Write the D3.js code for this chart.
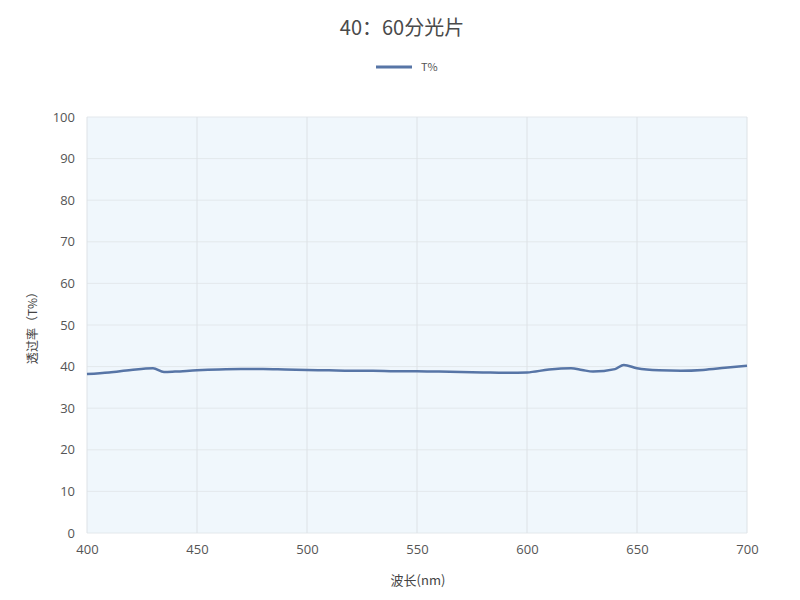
<!DOCTYPE html>
<html>
<head>
<meta charset="utf-8">
<script src="https://cdn.jsdelivr.net/npm/d3@7"></script>
<style>
  body { margin: 0; background: #fff; }
  text { font-family: "Noto Sans CJK SC", "Noto Sans", sans-serif; }
</style>
</head>
<body>
<div id="chart"></div>
<script>
// wavelength (nm) and transmittance (%)
const wavelengths = [400, 410, 420, 430, 435, 440, 450, 460, 470, 480, 490, 500, 510, 520, 530, 540, 550,
                     560, 570, 580, 590, 600, 610, 620, 625, 630, 640, 644, 650, 660, 670, 680, 690, 700];
const transmit = [38.2, 38.6, 39.2, 39.6, 38.7, 38.8, 39.1, 39.3, 39.4, 39.4, 39.3, 39.2, 39.1, 39.0, 39.0, 38.9, 38.9,
                  38.8, 38.7, 38.6, 38.5, 38.6, 39.3, 39.6, 39.2, 38.8, 39.4, 40.4, 39.6, 39.1, 39.0, 39.2, 39.7, 40.2];
const xTicks = [400, 450, 500, 550, 600, 650, 700];
const yTicks = [0, 10, 20, 30, 40, 50, 60, 70, 80, 90, 100];

const titleText = "40：60分光片";
const seriesName = "T%";

var svg = d3.select("#chart").append("svg")
    .attr("width", 800)
    .attr("height", 600);

// plot box ("top" is taken by window.top, so use other names)
var plotL = 87, plotR = 747, plotT = 117, plotB = 533;

var x = d3.scaleLinear().domain([400, 700]).range([plotL, plotR]);
var y = d3.scaleLinear().domain([0, 100]).range([plotB, plotT]);

// plot background
svg.append("rect")
    .attr("x", plotL)
    .attr("y", plotT)
    .attr("width", plotR - plotL)
    .attr("height", plotB - plotT)
    .style("fill", "#f0f7fc");

// horizontal grid
svg.append("g")
    .selectAll("line")
    .data(yTicks)
    .enter()
    .append("line")
        .attr("x1", plotL)
        .attr("x2", plotR)
        .attr("y1", function(d) { return y(d); })
        .attr("y2", function(d) { return y(d); })
        .style("stroke", "#e3e8ec")
        .style("stroke-width", 1);

// vertical grid
svg.append("g")
    .selectAll("line")
    .data(xTicks)
    .enter()
    .append("line")
        .attr("x1", function(d) { return x(d); })
        .attr("x2", function(d) { return x(d); })
        .attr("y1", plotT)
        .attr("y2", plotB)
        .style("stroke", "#dde2e6")
        .style("stroke-width", 1);

// axes (labels only)
var xAxis = svg.append("g")
    .attr("transform", "translate(0," + plotB + ")")
    .call(d3.axisBottom(x).tickValues(xTicks).tickSize(0).tickPadding(12));
var yAxis = svg.append("g")
    .attr("transform", "translate(" + plotL + ",0)")
    .call(d3.axisLeft(y).tickValues(yTicks).tickSize(0).tickPadding(12));

[xAxis, yAxis].forEach(function(a) {
    a.select(".domain").remove();
    a.selectAll("text")
        .style("font-size", "13px")
        .style("fill", "#555")
        .style("font-family", "'Open Sans', 'Noto Sans', sans-serif");
});

// data line
var pts = wavelengths.map(function(w, i) { return [w, transmit[i]]; });
var line = d3.line()
    .x(function(d) { return x(d[0]); })
    .y(function(d) { return y(d[1]); })
    .curve(d3.curveMonotoneX);

svg.append("path")
    .datum(pts)
    .attr("d", line)
    .style("fill", "none")
    .style("stroke", "#5775a6")
    .style("stroke-width", 2.5);

// title
svg.append("text")
    .attr("x", 402)
    .attr("y", 35)
    .attr("text-anchor", "middle")
    .style("font-size", "20px")
    .style("fill", "#4a4a4a")
    .text(titleText);

// legend
svg.append("line")
    .attr("x1", 376)
    .attr("x2", 412)
    .attr("y1", 67)
    .attr("y2", 67)
    .style("stroke", "#5775a6")
    .style("stroke-width", 3);
svg.append("text")
    .attr("x", 421)
    .attr("y", 71)
    .style("font-size", "11px")
    .style("fill", "#555")
    .text(seriesName);

// axis titles
svg.append("text")
    .attr("transform", "translate(37,325) rotate(-90)")
    .attr("text-anchor", "middle")
    .style("font-size", "12px")
    .style("fill", "#444")
    .text("透过率（T%）");

svg.append("text")
    .attr("x", 418)
    .attr("y", 585)
    .attr("text-anchor", "middle")
    .style("font-size", "13px")
    .style("fill", "#444")
    .text("波长(nm)");
</script>
</body>
</html>
